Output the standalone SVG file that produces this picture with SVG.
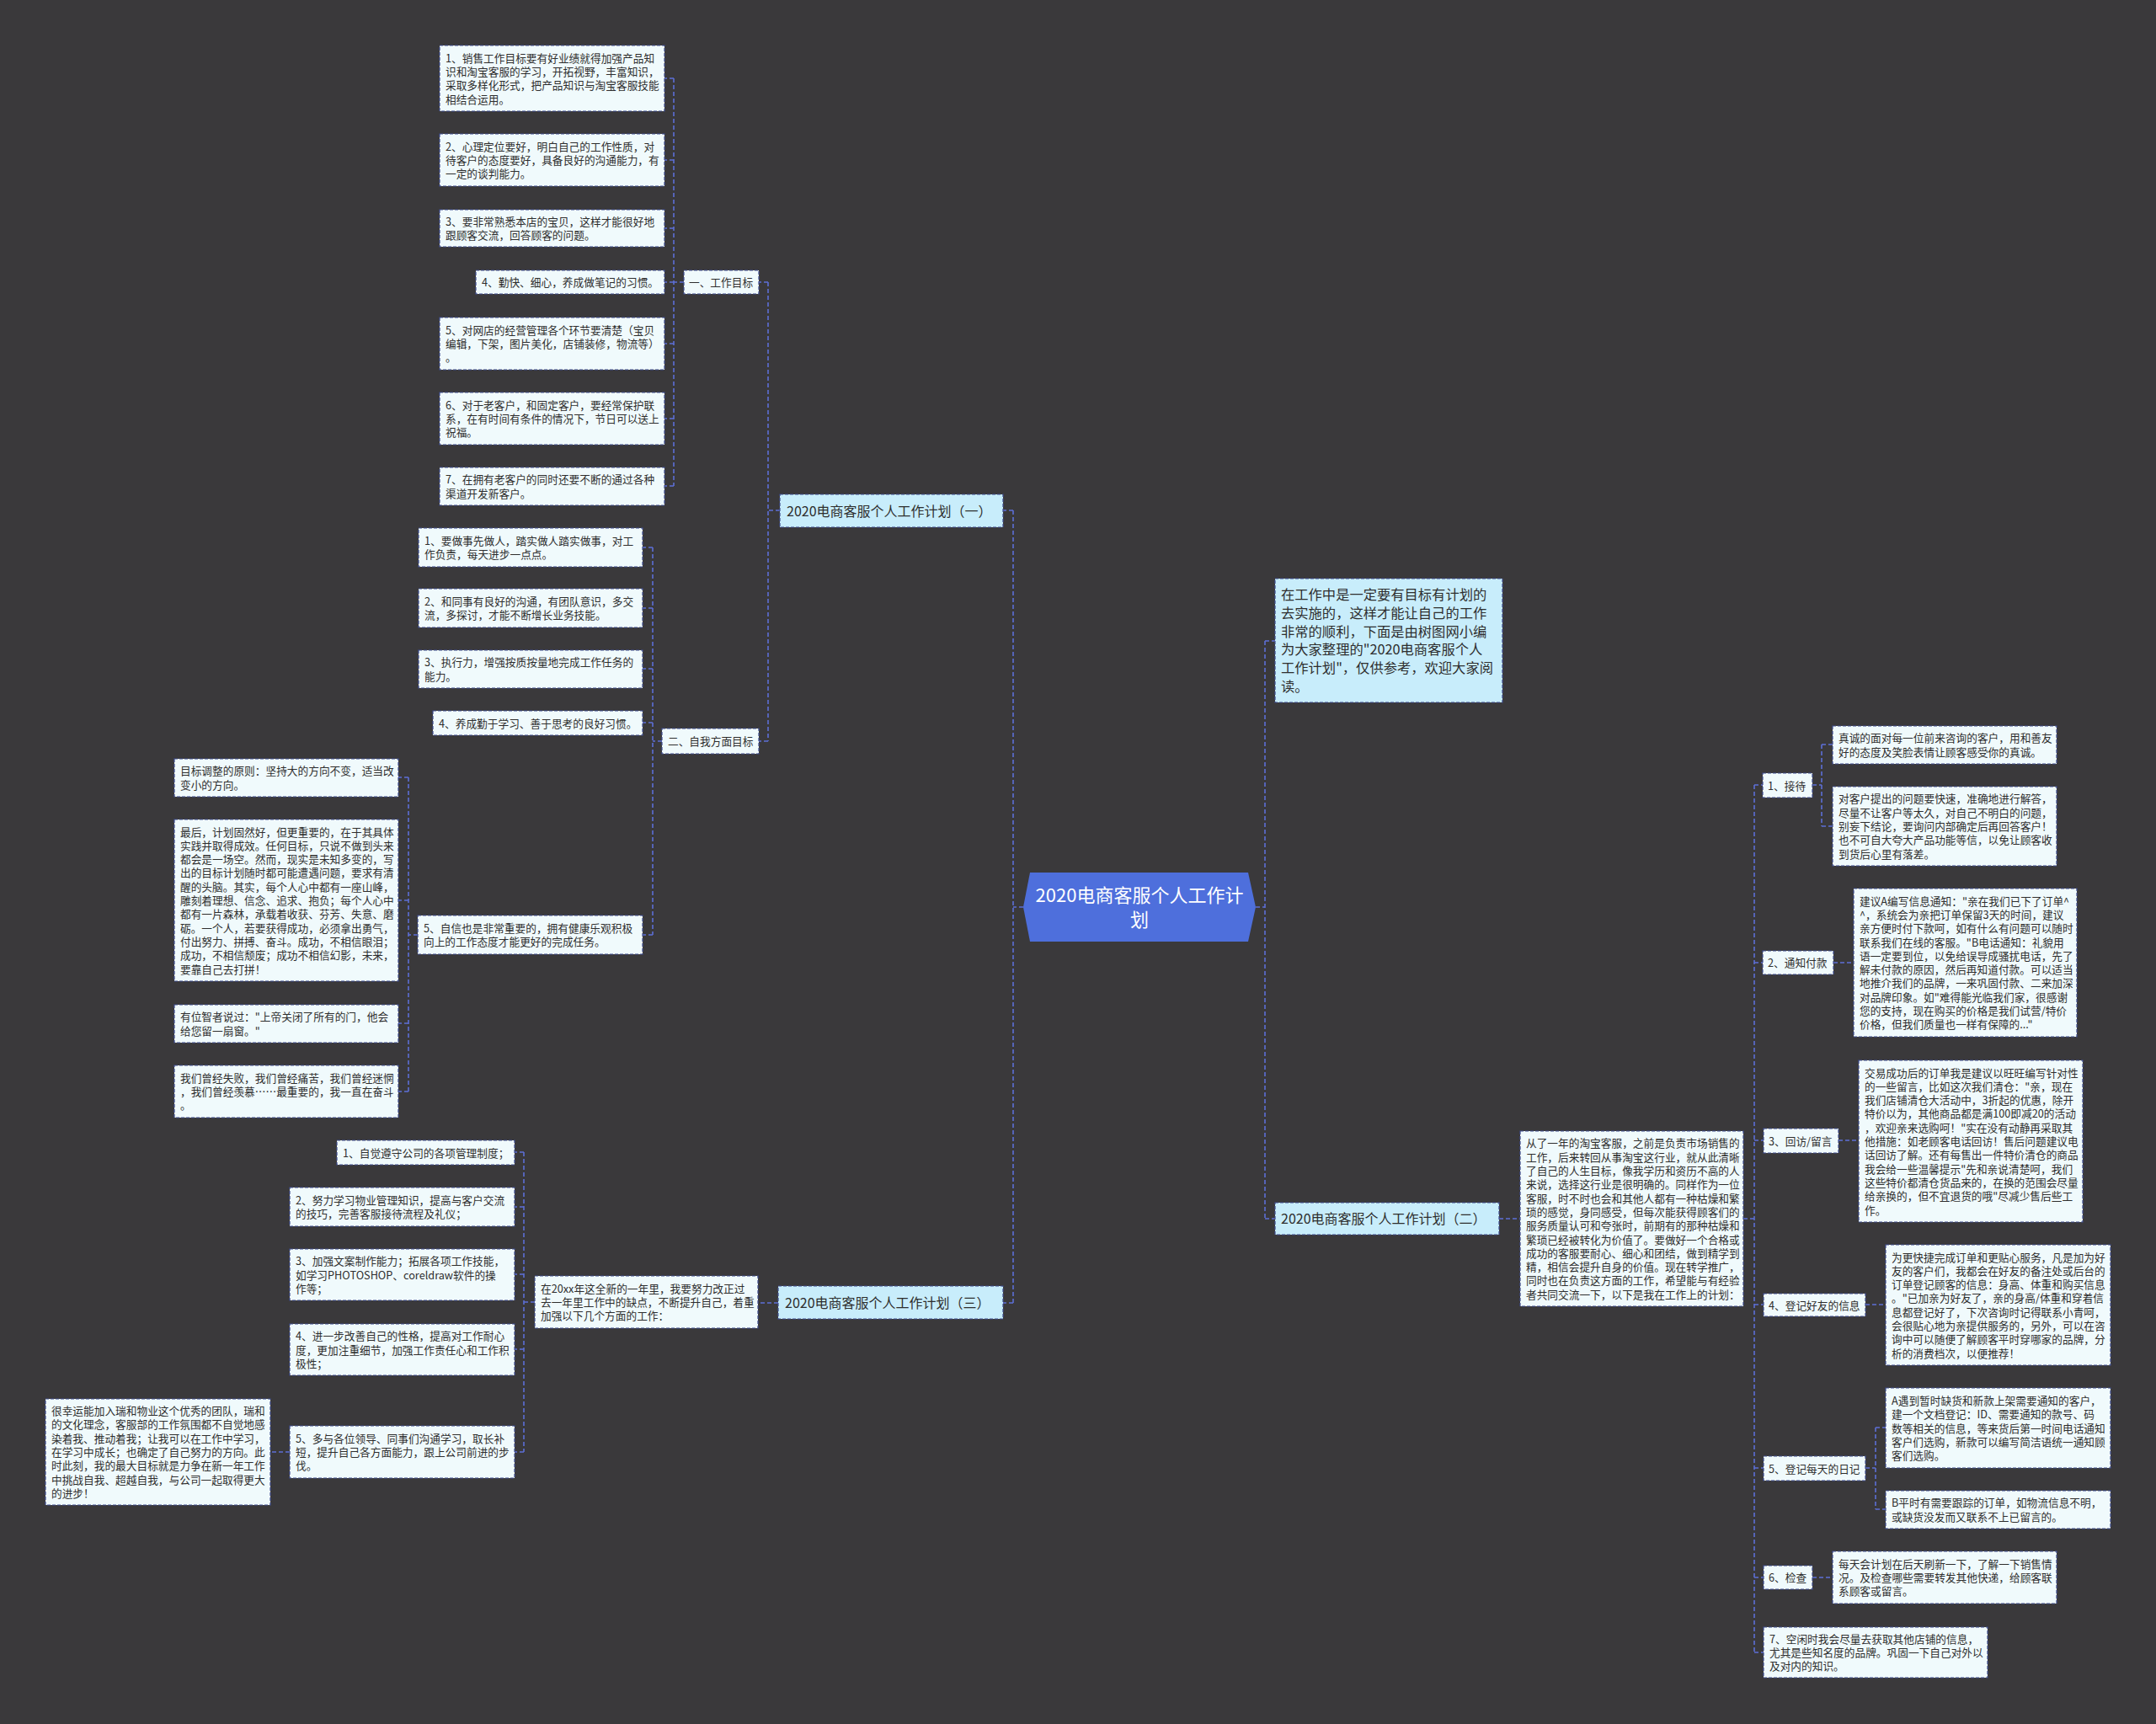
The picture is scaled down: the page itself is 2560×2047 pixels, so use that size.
<svg xmlns="http://www.w3.org/2000/svg" width="2560" height="2047" viewBox="0 0 2560 2047">
<style>
.b{fill:#f0fafc;stroke:#3e4c8e;stroke-width:1.2;stroke-dasharray:4 2}
.m{fill:#c8edfb;stroke:#3e4c8e;stroke-width:1.2;stroke-dasharray:4 2}
text{font-family:"Noto Sans CJK SC","Noto Sans",sans-serif;fill:#2e2e2e}
.s{font-size:12.7px}
.l{font-size:16px}
.c{fill:none;stroke:#5d6fd6;stroke-width:1.6;stroke-dasharray:5 3}
</style>
<rect width="2560" height="2047" fill="#3a393b"/>
<g id="connectors">
<path class="c" d="M1215,1077H1203M1203,606V1547M1203,606H1191M1203,1547H1191"/>
<path class="c" d="M1491,1077H1502M1502,761V1447M1502,761H1514M1502,1447H1514"/>
<path class="c" d="M926,606H912M912,335V880M912,335H901M912,880H901"/>
<path class="c" d="M812,335H800M800,93V577M800,93H789M800,190H789M800,271H789M800,335H789M800,408H789M800,497H789M800,577H789"/>
<path class="c" d="M786,880H775M775,650V1110M775,650H763M775,722H763M775,794H763M775,858H763M775,1110H763"/>
<path class="c" d="M496,1110H485M485,923V1296M485,923H473M485,1069H473M485,1215H473M485,1296H473"/>
<path class="c" d="M924,1547H900M635,1546H622M622,1368V1724M622,1368H611M622,1433H611M622,1513H611M622,1602H611M622,1724H611M344,1724H321"/>
<path class="c" d="M1780,1447H1805M2070,1447H2083M2083,932V1962M2083,932H2093M2083,1143H2093M2083,1354H2094M2083,1549H2094M2083,1743H2094M2083,1873H2094M2083,1962H2094"/>
<path class="c" d="M2152,932H2163M2163,884V981M2163,884H2176M2163,981H2176"/>
<path class="c" d="M2177,1143H2201M2183,1354H2207M2215,1549H2239M2152,1873H2176"/>
<path class="c" d="M2215,1743H2227M2227,1695V1792M2227,1695H2239M2227,1792H2239"/>
</g>
<g id="root">
<polygon points="1223,1036 1482,1036 1491,1077 1482,1118 1223,1118 1215,1077" fill="#4e6fdc"/>
<text x="1353" y="1071" text-anchor="middle" font-size="22" style="fill:#fff">2020电商客服个人工作计</text>
<text x="1353" y="1100" text-anchor="middle" font-size="22" style="fill:#fff">划</text>
</g>
<g id="branch1">
<rect class="m" x="926" y="587" width="265" height="39"/>
<text class="l" x="934" y="612.5">2020电商客服个人工作计划（一）</text>
</g>
<g id="branch2">
<rect class="m" x="1514" y="1428" width="266" height="38"/>
<text class="l" x="1521" y="1453">2020电商客服个人工作计划（二）</text>
</g>
<g id="branch3">
<rect class="m" x="924" y="1527" width="267" height="39"/>
<text class="l" x="932" y="1552.5">2020电商客服个人工作计划（三）</text>
</g>
<g id="intro">
<rect class="m" x="1514" y="687" width="270" height="147"/>
<text x="1521" font-size="16.3"><tspan x="1521" y="712.3">在工作中是一定要有目标有计划的</tspan><tspan x="1521" y="734">去实施的，这样才能让自己的工作</tspan><tspan x="1521" y="755.7">非常的顺利，下面是由树图网小编</tspan><tspan x="1521" y="777.4">为大家整理的"2020电商客服个人</tspan><tspan x="1521" y="799.1">工作计划"，仅供参考，欢迎大家阅</tspan><tspan x="1521" y="820.8">读。</tspan></text>
</g>
<g id="goal">
<rect class="b" x="812" y="321" width="89" height="28"/>
<text class="s" x="818" y="340">一、工作目标</text>
</g>
<g id="g1">
<rect class="b" x="522" y="54" width="267" height="78"/>
<text class="s"><tspan x="529" y="73.6">1、销售工作目标要有好业绩就得加强产品知</tspan><tspan x="529" y="89.9">识和淘宝客服的学习，开拓视野，丰富知识，</tspan><tspan x="529" y="106.2">采取多样化形式，把产品知识与淘宝客服技能</tspan><tspan x="529" y="122.5">相结合运用。</tspan></text>
</g>
<g id="g2">
<rect class="b" x="522" y="159" width="267" height="62"/>
<text class="s"><tspan x="529" y="178.7">2、心理定位要好，明白自己的工作性质，对</tspan><tspan x="529" y="195">待客户的态度要好，具备良好的沟通能力，有</tspan><tspan x="529" y="211.3">一定的谈判能力。</tspan></text>
</g>
<g id="g3">
<rect class="b" x="522" y="249" width="267" height="44"/>
<text class="s"><tspan x="529" y="267.9">3、要非常熟悉本店的宝贝，这样才能很好地</tspan><tspan x="529" y="284.2">跟顾客交流，回答顾客的问题。</tspan></text>
</g>
<g id="g4">
<rect class="b" x="565" y="321" width="224" height="28"/>
<text class="s" x="572" y="340">4、勤快、细心，养成做笔记的习惯。</text>
</g>
<g id="g5">
<rect class="b" x="522" y="377" width="267" height="62"/>
<text class="s"><tspan x="529" y="396.7">5、对网店的经营管理各个环节要清楚（宝贝</tspan><tspan x="529" y="413">编辑，下架，图片美化，店铺装修，物流等）</tspan><tspan x="529" y="429.3">。</tspan></text>
</g>
<g id="g6">
<rect class="b" x="522" y="466" width="267" height="62"/>
<text class="s"><tspan x="529" y="485.7">6、对于老客户，和固定客户，要经常保护联</tspan><tspan x="529" y="502">系，在有时间有条件的情况下，节日可以送上</tspan><tspan x="529" y="518.3">祝福。</tspan></text>
</g>
<g id="g7">
<rect class="b" x="522" y="555" width="267" height="45"/>
<text class="s"><tspan x="529" y="574.4">7、在拥有老客户的同时还要不断的通过各种</tspan><tspan x="529" y="590.7">渠道开发新客户。</tspan></text>
</g>
<g id="self">
<rect class="b" x="786" y="865" width="115" height="30"/>
<text class="s" x="793" y="885">二、自我方面目标</text>
</g>
<g id="s1">
<rect class="b" x="497" y="627" width="266" height="46"/>
<text class="s"><tspan x="504" y="646.9">1、要做事先做人，踏实做人踏实做事，对工</tspan><tspan x="504" y="663.2">作负责，每天进步一点点。</tspan></text>
</g>
<g id="s2">
<rect class="b" x="497" y="699" width="266" height="46"/>
<text class="s"><tspan x="504" y="718.9">2、和同事有良好的沟通，有团队意识，多交</tspan><tspan x="504" y="735.2">流，多探讨，才能不断增长业务技能。</tspan></text>
</g>
<g id="s3">
<rect class="b" x="497" y="772" width="266" height="45"/>
<text class="s"><tspan x="504" y="791.4">3、执行力，增强按质按量地完成工作任务的</tspan><tspan x="504" y="807.7">能力。</tspan></text>
</g>
<g id="s4">
<rect class="b" x="514" y="844" width="249" height="29"/>
<text class="s" x="521" y="863.5">4、养成勤于学习、善于思考的良好习惯。</text>
</g>
<g id="s5">
<rect class="b" x="496" y="1087" width="267" height="46"/>
<text class="s"><tspan x="503" y="1106.9">5、自信也是非常重要的，拥有健康乐观积极</tspan><tspan x="503" y="1123.2">向上的工作态度才能更好的完成任务。</tspan></text>
</g>
<g id="c1">
<rect class="b" x="207" y="901" width="266" height="45"/>
<text class="s"><tspan x="214" y="920.4">目标调整的原则：坚持大的方向不变，适当改</tspan><tspan x="214" y="936.7">变小的方向。</tspan></text>
</g>
<g id="c2">
<rect class="b" x="207" y="973" width="266" height="192"/>
<text class="s"><tspan x="214" y="992.5">最后，计划固然好，但更重要的，在于其具体</tspan><tspan x="214" y="1008.8">实践并取得成效。任何目标，只说不做到头来</tspan><tspan x="214" y="1025.1">都会是一场空。然而，现实是未知多变的，写</tspan><tspan x="214" y="1041.4">出的目标计划随时都可能遭遇问题，要求有清</tspan><tspan x="214" y="1057.7">醒的头脑。其实，每个人心中都有一座山峰，</tspan><tspan x="214" y="1074">雕刻着理想、信念、追求、抱负；每个人心中</tspan><tspan x="214" y="1090.3">都有一片森林，承载着收获、芬芳、失意、磨</tspan><tspan x="214" y="1106.6">砺。一个人，若要获得成功，必须拿出勇气，</tspan><tspan x="214" y="1122.9">付出努力、拼搏、奋斗。成功，不相信眼泪；</tspan><tspan x="214" y="1139.2">成功，不相信颓废；成功不相信幻影，未来，</tspan><tspan x="214" y="1155.5">要靠自己去打拼！</tspan></text>
</g>
<g id="c3">
<rect class="b" x="207" y="1193" width="266" height="45"/>
<text class="s"><tspan x="214" y="1212.4">有位智者说过："上帝关闭了所有的门，他会</tspan><tspan x="214" y="1228.7">给您留一扇窗。"</tspan></text>
</g>
<g id="c4">
<rect class="b" x="207" y="1265" width="266" height="62"/>
<text class="s"><tspan x="214" y="1284.7">我们曾经失败，我们曾经痛苦，我们曾经迷惘</tspan><tspan x="214" y="1301">，我们曾经羡慕……最重要的，我一直在奋斗</tspan><tspan x="214" y="1317.3">。</tspan></text>
</g>
<g id="y20xx">
<rect class="b" x="635" y="1515" width="265" height="62"/>
<text class="s"><tspan x="642" y="1534.7">在20xx年这全新的一年里，我要努力改正过</tspan><tspan x="642" y="1551">去一年里工作中的缺点，不断提升自己，着重</tspan><tspan x="642" y="1567.3">加强以下几个方面的工作：</tspan></text>
</g>
<g id="t1">
<rect class="b" x="400" y="1354" width="211" height="29"/>
<text class="s" x="407" y="1373.5">1、自觉遵守公司的各项管理制度；</text>
</g>
<g id="t2">
<rect class="b" x="344" y="1410" width="267" height="46"/>
<text class="s"><tspan x="351" y="1429.9">2、努力学习物业管理知识，提高与客户交流</tspan><tspan x="351" y="1446.2">的技巧，完善客服接待流程及礼仪；</tspan></text>
</g>
<g id="t3">
<rect class="b" x="344" y="1483" width="267" height="61"/>
<text class="s"><tspan x="351" y="1502.2">3、加强文案制作能力；拓展各项工作技能，</tspan><tspan x="351" y="1518.5">如学习PHOTOSHOP、coreldraw软件的操</tspan><tspan x="351" y="1534.8">作等；</tspan></text>
</g>
<g id="t4">
<rect class="b" x="344" y="1572" width="267" height="61"/>
<text class="s"><tspan x="351" y="1591.2">4、进一步改善自己的性格，提高对工作耐心</tspan><tspan x="351" y="1607.5">度，更加注重细节，加强工作责任心和工作积</tspan><tspan x="351" y="1623.8">极性；</tspan></text>
</g>
<g id="t5">
<rect class="b" x="344" y="1693" width="267" height="62"/>
<text class="s"><tspan x="351" y="1712.7">5、多与各位领导、同事们沟通学习，取长补</tspan><tspan x="351" y="1729">短，提升自己各方面能力，跟上公司前进的步</tspan><tspan x="351" y="1745.3">伐。</tspan></text>
</g>
<g id="lucky">
<rect class="b" x="54" y="1661" width="267" height="126"/>
<text class="s"><tspan x="61" y="1680.1">很幸运能加入瑞和物业这个优秀的团队，瑞和</tspan><tspan x="61" y="1696.4">的文化理念，客服部的工作氛围都不自觉地感</tspan><tspan x="61" y="1712.7">染着我、推动着我；让我可以在工作中学习，</tspan><tspan x="61" y="1729">在学习中成长；也确定了自己努力的方向。此</tspan><tspan x="61" y="1745.3">时此刻，我的最大目标就是力争在新一年工作</tspan><tspan x="61" y="1761.6">中挑战自我、超越自我，与公司一起取得更大</tspan><tspan x="61" y="1777.9">的进步！</tspan></text>
</g>
<g id="year">
<rect class="b" x="1805" y="1343" width="265" height="208"/>
<text class="s"><tspan x="1812" y="1362.4">从了一年的淘宝客服，之前是负责市场销售的</tspan><tspan x="1812" y="1378.7">工作，后来转回从事淘宝这行业，就从此清晰</tspan><tspan x="1812" y="1395">了自己的人生目标，像我学历和资历不高的人</tspan><tspan x="1812" y="1411.3">来说，选择这行业是很明确的。同样作为一位</tspan><tspan x="1812" y="1427.6">客服，时不时也会和其他人都有一种枯燥和繁</tspan><tspan x="1812" y="1443.9">琐的感觉，身同感受，但每次能获得顾客们的</tspan><tspan x="1812" y="1460.2">服务质量认可和夸张时，前期有的那种枯燥和</tspan><tspan x="1812" y="1476.5">繁琐已经被转化为价值了。要做好一个合格或</tspan><tspan x="1812" y="1492.8">成功的客服要耐心、细心和团结，做到精学到</tspan><tspan x="1812" y="1509.1">精，相信会提升自身的价值。现在转学推广，</tspan><tspan x="1812" y="1525.4">同时也在负责这方面的工作，希望能与有经验</tspan><tspan x="1812" y="1541.7">者共同交流一下，以下是我在工作上的计划：</tspan></text>
</g>
<g id="r1">
<rect class="b" x="2093" y="918" width="59" height="29"/>
<text class="s" x="2099" y="937.5">1、接待</text>
</g>
<g id="r1a">
<rect class="b" x="2176" y="862" width="266" height="45"/>
<text class="s"><tspan x="2183" y="881.4">真诚的面对每一位前来咨询的客户，用和善友</tspan><tspan x="2183" y="897.7">好的态度及笑脸表情让顾客感受你的真诚。</tspan></text>
</g>
<g id="r1b">
<rect class="b" x="2176" y="934" width="266" height="94"/>
<text class="s"><tspan x="2183" y="953.4">对客户提出的问题要快速，准确地进行解答，</tspan><tspan x="2183" y="969.7">尽量不让客户等太久，对自己不明白的问题，</tspan><tspan x="2183" y="986">别妄下结论，要询问内部确定后再回答客户！</tspan><tspan x="2183" y="1002.3">也不可自大夸大产品功能等信，以免让顾客收</tspan><tspan x="2183" y="1018.6">到货后心里有落差。</tspan></text>
</g>
<g id="r2">
<rect class="b" x="2093" y="1129" width="84" height="28"/>
<text class="s" x="2099" y="1148">2、通知付款</text>
</g>
<g id="r2a">
<rect class="b" x="2201" y="1055" width="265" height="176"/>
<text class="s"><tspan x="2208" y="1074.6">建议A编写信息通知："亲在我们已下了订单^</tspan><tspan x="2208" y="1090.9">^，系统会为亲把订单保留3天的时间，建议</tspan><tspan x="2208" y="1107.2">亲方便时付下款呵，如有什么有问题可以随时</tspan><tspan x="2208" y="1123.5">联系我们在线的客服。"B电话通知：礼貌用</tspan><tspan x="2208" y="1139.8">语一定要到位，以免给误导成骚扰电话，先了</tspan><tspan x="2208" y="1156.1">解未付款的原因，然后再知道付款。可以适当</tspan><tspan x="2208" y="1172.4">地推介我们的品牌，一来巩固付款、二来加深</tspan><tspan x="2208" y="1188.7">对品牌印象。如"难得能光临我们家，很感谢</tspan><tspan x="2208" y="1205">您的支持，现在购买的价格是我们试营/特价</tspan><tspan x="2208" y="1221.3">价格，但我们质量也一样有保障的..."</tspan></text>
</g>
<g id="r3">
<rect class="b" x="2094" y="1340" width="89" height="29"/>
<text class="s" x="2100" y="1359.5">3、回访/留言</text>
</g>
<g id="r3a">
<rect class="b" x="2207" y="1259" width="266" height="192"/>
<text class="s"><tspan x="2214" y="1278.5">交易成功后的订单我是建议以旺旺编写针对性</tspan><tspan x="2214" y="1294.8">的一些留言，比如这次我们清仓："亲，现在</tspan><tspan x="2214" y="1311.1">我们店铺清仓大活动中，3折起的优惠，除开</tspan><tspan x="2214" y="1327.4">特价以为，其他商品都是满100即减20的活动</tspan><tspan x="2214" y="1343.7">，欢迎亲来选购呵！"实在没有动静再采取其</tspan><tspan x="2214" y="1360">他措施：如老顾客电话回访！售后问题建议电</tspan><tspan x="2214" y="1376.3">话回访了解。还有每售出一件特价清仓的商品</tspan><tspan x="2214" y="1392.6">我会给一些温馨提示"先和亲说清楚呵，我们</tspan><tspan x="2214" y="1408.9">这些特价都清仓货品来的，在换的范围会尽量</tspan><tspan x="2214" y="1425.2">给亲换的，但不宜退货的哦"尽减少售后些工</tspan><tspan x="2214" y="1441.5">作。</tspan></text>
</g>
<g id="r4">
<rect class="b" x="2094" y="1536" width="121" height="27"/>
<text class="s" x="2100" y="1554.5">4、登记好友的信息</text>
</g>
<g id="r4a">
<rect class="b" x="2239" y="1478" width="267" height="143"/>
<text class="s"><tspan x="2246" y="1497.5">为更快捷完成订单和更贴心服务，凡是加为好</tspan><tspan x="2246" y="1513.8">友的客户们，我都会在好友的备注处或后台的</tspan><tspan x="2246" y="1530.1">订单登记顾客的信息：身高、体重和购买信息</tspan><tspan x="2246" y="1546.4">。"已加亲为好友了，亲的身高/体重和穿着信</tspan><tspan x="2246" y="1562.7">息都登记好了，下次咨询时记得联系小青呵，</tspan><tspan x="2246" y="1579">会很贴心地为亲提供服务的，另外，可以在咨</tspan><tspan x="2246" y="1595.3">询中可以随便了解顾客平时穿哪家的品牌，分</tspan><tspan x="2246" y="1611.6">析的消费档次，以便推荐！</tspan></text>
</g>
<g id="r5">
<rect class="b" x="2094" y="1729" width="121" height="29"/>
<text class="s" x="2100" y="1748.5">5、登记每天的日记</text>
</g>
<g id="r5a">
<rect class="b" x="2239" y="1648" width="267" height="95"/>
<text class="s"><tspan x="2246" y="1667.9">A遇到暂时缺货和新款上架需要通知的客户，</tspan><tspan x="2246" y="1684.2">建一个文档登记：ID、需要通知的款号、码</tspan><tspan x="2246" y="1700.5">数等相关的信息，等来货后第一时间电话通知</tspan><tspan x="2246" y="1716.8">客户们选购，新款可以编写简洁语统一通知顾</tspan><tspan x="2246" y="1733.1">客们选购。</tspan></text>
</g>
<g id="r5b">
<rect class="b" x="2239" y="1770" width="267" height="45"/>
<text class="s"><tspan x="2246" y="1789.4">B平时有需要跟踪的订单，如物流信息不明，</tspan><tspan x="2246" y="1805.7">或缺货没发而又联系不上已留言的。</tspan></text>
</g>
<g id="r6">
<rect class="b" x="2094" y="1859" width="58" height="28"/>
<text class="s" x="2100" y="1878">6、检查</text>
</g>
<g id="r6a">
<rect class="b" x="2176" y="1842" width="266" height="62"/>
<text class="s"><tspan x="2183" y="1861.7">每天会计划在后天刷新一下，了解一下销售情</tspan><tspan x="2183" y="1878">况。及检查哪些需要转发其他快递，给顾客联</tspan><tspan x="2183" y="1894.3">系顾客或留言。</tspan></text>
</g>
<g id="r7">
<rect class="b" x="2094" y="1932" width="266" height="60"/>
<text class="s"><tspan x="2101" y="1950.7">7、空闲时我会尽量去获取其他店铺的信息，</tspan><tspan x="2101" y="1967">尤其是些知名度的品牌。巩固一下自己对外以</tspan><tspan x="2101" y="1983.3">及对内的知识。</tspan></text>
</g>
</svg>
